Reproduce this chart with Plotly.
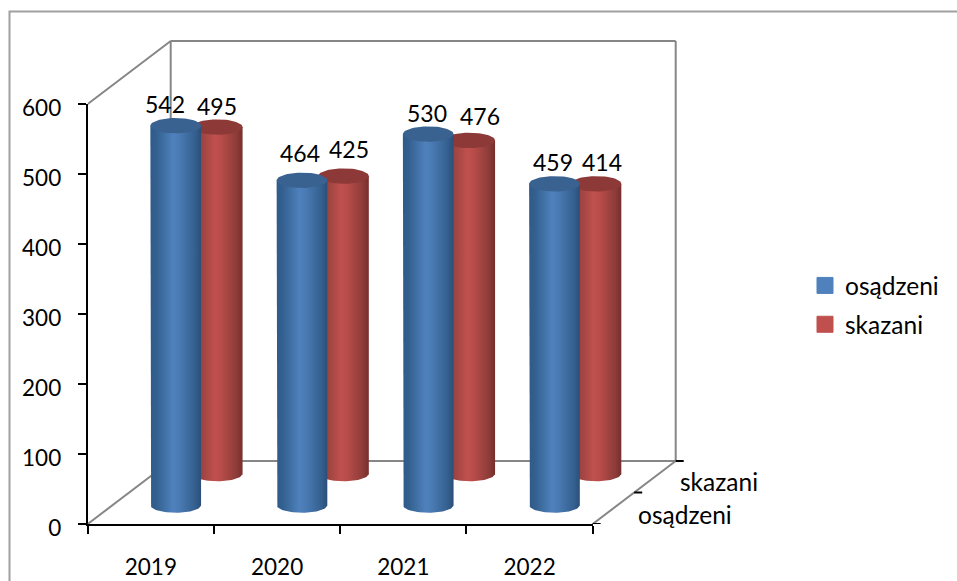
import numpy as np
import plotly.graph_objects as go

# ---- data ----
categories = ["2019", "2020", "2021", "2022"]
series_names = ["osądzeni", "skazani"]
osadzeni = [542, 464, 530, 459]
skazani = [495, 425, 476, 414]
y_ticks = [0, 100, 200, 300, 400, 500, 600]

# ---- layout constants (pixels) ----
W, H = 957, 581
L, T, PW, PH = 87.7, 104.0, 505.0, 420.0
BOT = T + PH
SX = PW / 4          # px per category
SY = PH / 600        # px per value unit
DX, DY = 83 / SX, 63 / SY   # full depth of the 3D box in data units
DEPTHS = [0.3, 0.8]         # series position along depth
RX, RY = 25.35 / SX, 7.7 / SY
FONT = "Lato"
FS = 23
FS_TXT = 24.5
WALL = "#868686"

BLUE_GRAD = [[0, "#2f5a8a"], [0.12, "#33608f"], [0.45, "#4f81bd"], [0.58, "#4a7ab3"], [0.88, "#34608f"], [1, "#2c4f78"]]
RED_GRAD = [[0, "#82322f"], [0.12, "#91403d"], [0.45, "#c0504d"], [0.58, "#b84c49"], [0.88, "#8c3c39"], [1, "#762e2c"]]
BLUE_TOP, RED_TOP = "#3a6291", "#8c3937"
BLUE, RED = "#4f81bd", "#c0504d"

fig = go.Figure()
AX = dict(xaxis="x2", yaxis="y2")  # the wide overlay axes, same scale as the visible ones


def seg(xs, ys, color, width):
    fig.add_trace(go.Scatter(x=xs, y=ys, mode="lines", line=dict(color=color, width=width),
                             showlegend=False, hoverinfo="skip", **AX))


# anchor trace for the visible axes
fig.add_trace(go.Scatter(x=[None], y=[None], showlegend=False, hoverinfo="skip"))

# back wall and floor outline
seg([0, DX, DX, 4 + DX, 4 + DX], [600, 600 + DY, DY, DY, 600 + DY], WALL, 2)
seg([DX, 4 + DX], [600 + DY, 600 + DY], WALL, 2)
seg([0, DX], [0, DY], WALL, 2)
seg([4, 4 + DX], [0, DY], WALL, 2)

# depth-axis ticks
tick_px = 8 / SX
for f in [0, 0.5, 1]:
    seg([4 + DX * f, 4 + DX * f + tick_px], [DY * f, DY * f], "black", 2)


def cylinder(i, value, depth, grad, top):
    cx = i + 0.5 + DX * depth
    base = DY * depth
    t = np.linspace(np.pi, 2 * np.pi, 40)
    low_x = cx + RX * np.cos(t)
    low_y = base + RY * np.sin(t)
    body_x = np.concatenate([[cx - RX], low_x, [cx + RX]])
    body_y = np.concatenate([[base + value], low_y, [base + value]])
    fig.add_trace(go.Scatter(
        x=body_x, y=body_y, mode="lines", line=dict(width=0), fill="toself",
        fillgradient=dict(type="horizontal", start=cx - RX, stop=cx + RX, colorscale=grad),
        showlegend=False, hoverinfo="skip", **AX))
    a = np.linspace(0, 2 * np.pi, 73)
    fig.add_trace(go.Scatter(
        x=cx + RX * np.cos(a), y=base + value + RY * np.sin(a), mode="lines", line=dict(width=0),
        fill="toself", fillcolor=top, showlegend=False, hoverinfo="skip", **AX))


for i in range(4):
    cylinder(i, skazani[i], DEPTHS[1], RED_GRAD, RED_TOP)
    cylinder(i, osadzeni[i], DEPTHS[0], BLUE_GRAD, BLUE_TOP)

# legend entries
for name, col in zip(series_names, [BLUE, RED]):
    fig.add_trace(go.Scatter(x=[None], y=[None], mode="markers", name=name, legendgroup=name,
                             marker=dict(symbol="square", size=16, color=col, line=dict(color=col, width=1)), **AX))

# data labels (pixel nudges relative to the cylinder top centre)
nudges_o = [(-11, 22), (-2, 27), (-1, 21), (-1, 22)]
nudges_s = [(0, 21), (6, 27), (10, 24), (6, 22)]
annotations = []
for i in range(4):
    for vals, depth, nudges in [(osadzeni, DEPTHS[0], nudges_o), (skazani, DEPTHS[1], nudges_s)]:
        annotations.append(dict(
            x=i + 0.5 + DX * depth, y=vals[i] + DY * depth, xref="x2", yref="y2", text=str(vals[i]),
            showarrow=False, xshift=nudges[i][0], yshift=nudges[i][1],
            font=dict(family=FONT, size=FS, color="black")))

# depth-axis labels
for name, f, sx, sy in [("osądzeni", 0.25, 71.5, -5.75), ("skazani", 0.75, 63.7, -5)]:
    annotations.append(dict(x=4 + DX * f, y=DY * f, xref="x2", yref="y2", text=name, showarrow=False,
                            xshift=sx, yshift=sy, font=dict(family=FONT, size=FS_TXT, color="black")))

paper_x = lambda px: px / W
paper_y = lambda py: (H - py) / H

fig.update_layout(
    width=W, height=H, autosize=False,
    margin=dict(l=0, r=0, t=0, b=0, pad=0),
    paper_bgcolor="white", plot_bgcolor="rgba(0,0,0,0)",
    hovermode=False,
    font=dict(family=FONT, size=FS, color="black"),
    xaxis=dict(domain=[paper_x(L), paper_x(L + PW)], anchor="y", range=[0, 4], automargin=False,
               tickmode="array", tickvals=[0.5, 1.5, 2.5, 3.5], ticktext=categories,
               ticks="", showgrid=False, zeroline=False, showline=True, linecolor="black", linewidth=2,
               ticklabelstandoff=22, tickfont=dict(size=22.5),
               minor=dict(tickmode="array", tickvals=[0, 1, 2, 3, 4], ticks="outside", ticklen=8,
                          tickwidth=2, tickcolor="black", showgrid=False)),
    yaxis=dict(domain=[paper_y(BOT), paper_y(T)], anchor="x", range=[0, 600], automargin=False,
               tickmode="array", tickvals=y_ticks, ticks="outside", ticklen=8, tickwidth=2,
               tickcolor="black", showgrid=False, zeroline=False, showline=True, linecolor="black", linewidth=2,
               ticklabelstandoff=12, ticklabelshift=4, tickfont=dict(size=22.5)),
    xaxis2=dict(domain=[paper_x(L), 1], anchor="y2", range=[0, (W - L) / SX], visible=False, automargin=False),
    yaxis2=dict(domain=[paper_y(BOT), 1], anchor="x2", range=[0, BOT / SY], visible=False, automargin=False),
    legend=dict(x=paper_x(805), xanchor="left", y=paper_y(305), yanchor="middle",
                font=dict(family=FONT, size=FS_TXT), tracegroupgap=4, bgcolor="rgba(0,0,0,0)",
                borderwidth=0),
    annotations=annotations,
    shapes=[dict(type="rect", xref="paper", yref="paper", x0=paper_x(9.5), x1=paper_x(975),
                 y0=paper_y(600), y1=paper_y(11.5), line=dict(color="#a0a0a0", width=2),
                 fillcolor="rgba(0,0,0,0)", layer="below")],
)
fig.write_html("out.html", config=dict(displayModeBar=False), post_script="document.body.style.margin='0';")
